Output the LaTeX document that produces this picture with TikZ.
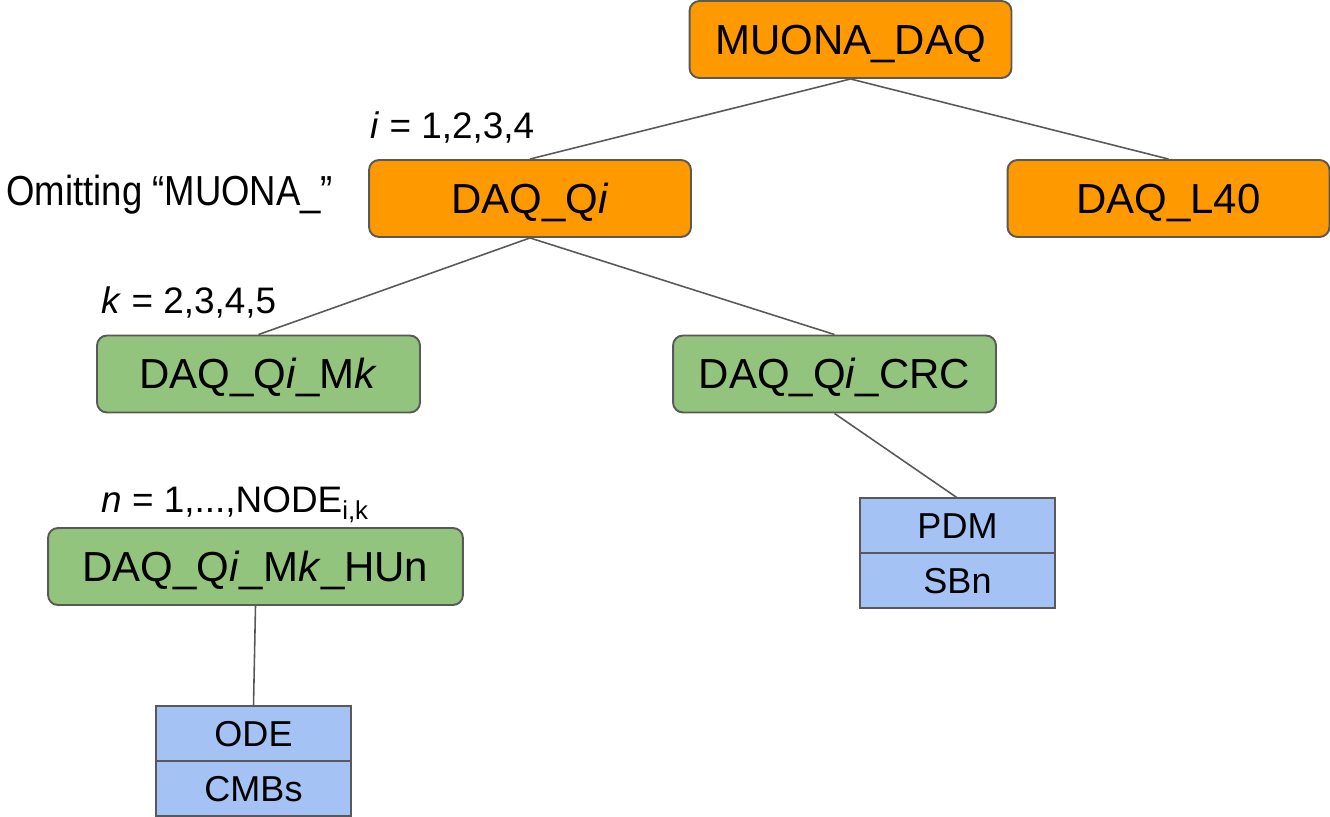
\documentclass[tikz,border=0pt]{standalone}
\usepackage{fontspec}
\setmainfont{Liberation Sans}
\usetikzlibrary{positioning}
\definecolor{daqorange}{HTML}{FF9900}
\definecolor{daqgreen}{HTML}{93C47D}
\definecolor{daqblue}{HTML}{A4C2F4}
\definecolor{daqgrey}{HTML}{595959}
\tikzset{unit/.style={draw=daqgrey,line width=1.1pt,rounded corners=0.2cm,inner sep=0pt,
    minimum height=1.54cm,text height=17pt,text depth=0pt,font=\fontsize{23.9}{28}\selectfont}}
\tikzset{orangeunit/.style={unit,fill=daqorange,minimum width=6.44cm}}
\tikzset{greenunit/.style={unit,fill=daqgreen,minimum width=6.46cm}}
\tikzset{board/.style={draw=daqgrey,line width=1.1pt,fill=daqblue,inner sep=0pt,outer sep=0pt,
    minimum width=3.9cm,minimum height=1.1cm,text height=14.7pt,text depth=0pt,font=\fontsize{20.5}{24}\selectfont}}
\tikzset{link/.style={draw=daqgrey,line width=0.9pt}}
\tikzset{note/.style={inner sep=0pt,anchor=base west,font=\fontsize{21}{25}\selectfont}}

\begin{document}
\begin{tikzpicture}[x=0.02cm,y=-0.02cm]
    \useasboundingbox (0,0) rectangle (1330,817);
    % crates
    \node[orangeunit] (daq) at (850.5,39.5) {MUONA\_DAQ};
    \node[orangeunit] (qi) at (530,198.5) {DAQ\_Q\textit{i}};
    \node[orangeunit] (l40) at (1168.5,198.5) {DAQ\_L40};
    \node[greenunit] (mk) at (258.5,374) {DAQ\_Q\textit{i}\_M\textit{k}};
    \node[greenunit] (crc) at (834.5,374) {DAQ\_Q\textit{i}\_CRC};
    \node[greenunit,minimum width=8.3cm] (hun) at (255.5,566.5) {DAQ\_Q\textit{i}\_M\textit{k}\_HUn};
    % boards
    \node[board] (pdm) at (957.5,525.5) {PDM};
    \node[board] (sbn) at (957.5,580.5) {SBn};
    \node[board] (ode) at (253.5,733.5) {ODE};
    \node[board] (cmb) at (253.5,788.5) {CMBs};
    % ranges
    \node[note] (irange) at (370,139) {\textit{i} = 1,2,3,4};
    \node[note] (omit) at (6,206) {\scalebox{0.87}[1]{\fontsize{23.9}{28}\selectfont Omitting “MUONA\_”}};
    \node[note] (krange) at (101,314) {\textit{k} = 2,3,4,5};
    \node[note] (nrange) at (101,513) {\textit{n} = 1,...,NODE\textsubscript{i,k}};
    % tree
    \draw[link] (daq.south) -- (qi.north);
    \draw[link] (daq.south) -- (l40.north);
    \draw[link] (qi.south) -- (mk.north);
    \draw[link] (qi.south) -- (crc.north);
    \draw[link] (crc.south) -- (pdm.north);
    \draw[link] (hun.south) -- (ode.north);
\end{tikzpicture}
\end{document}
